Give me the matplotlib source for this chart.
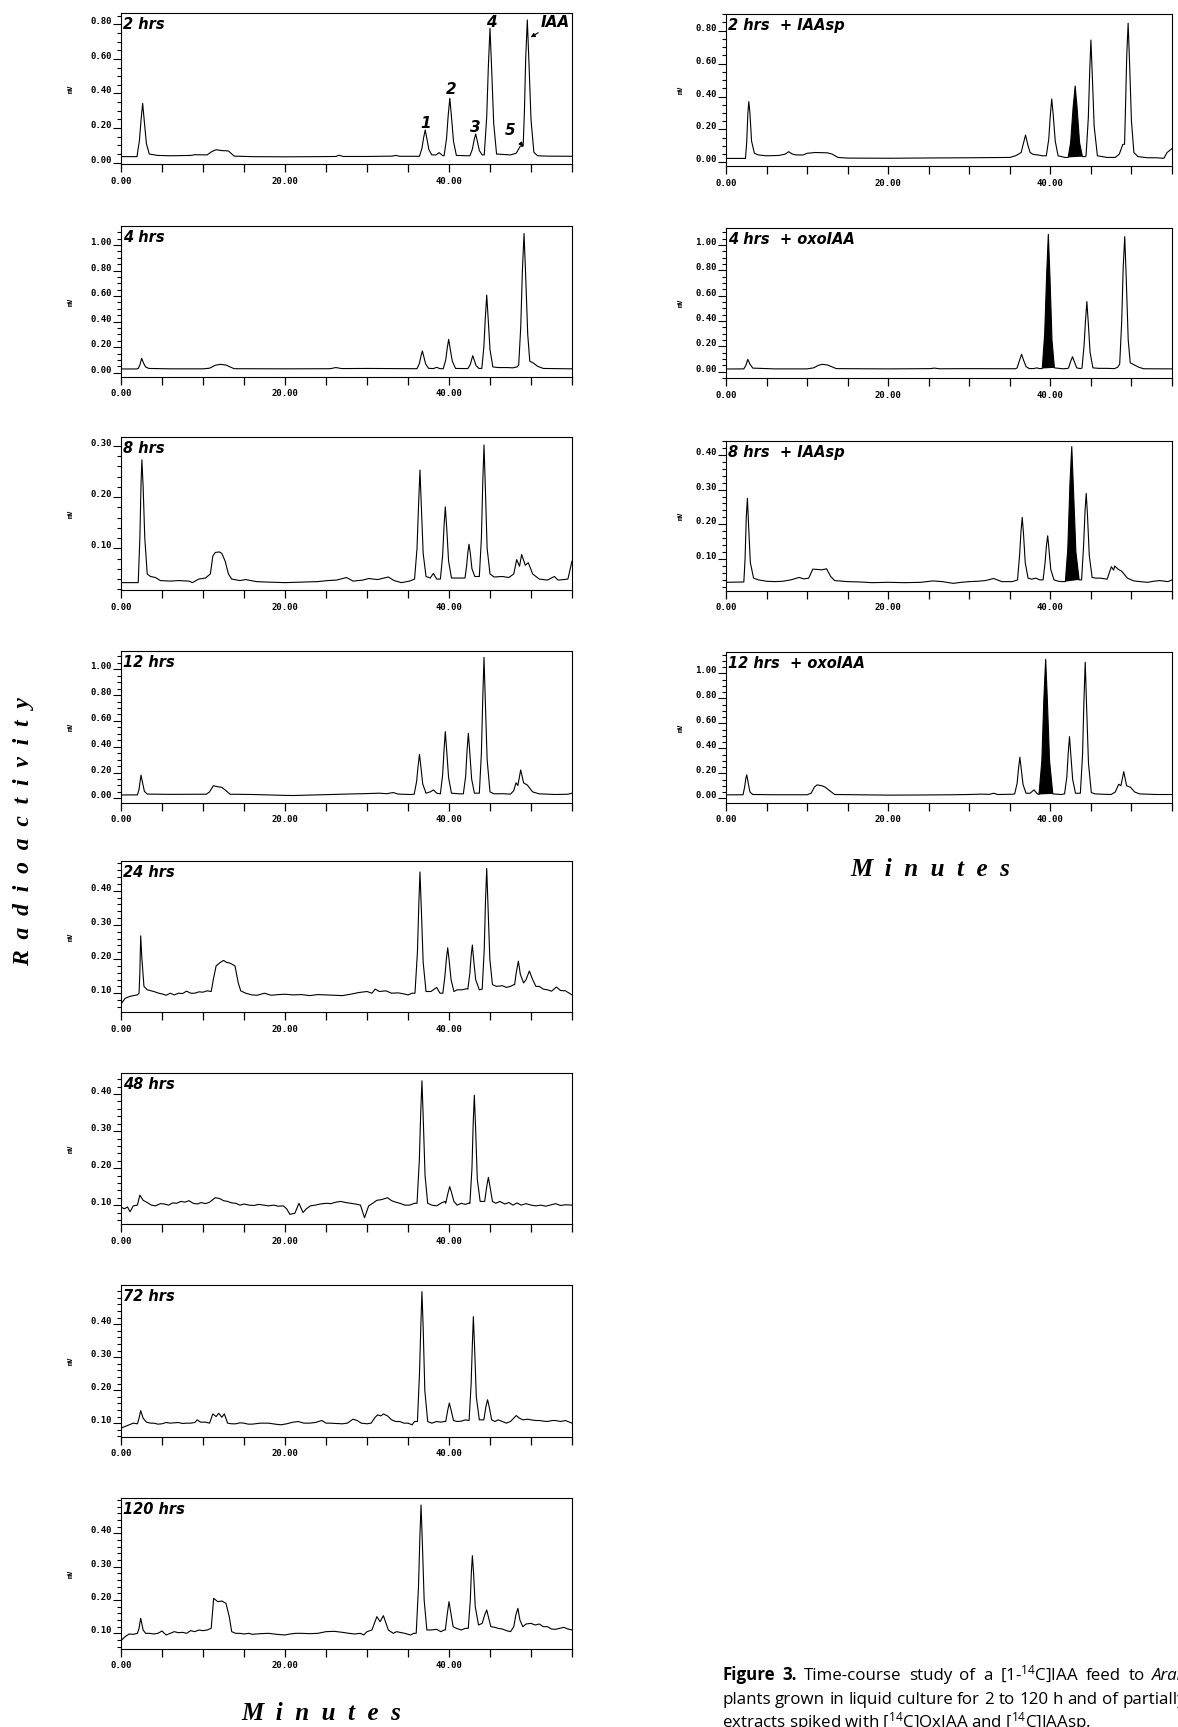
import matplotlib
matplotlib.use("Agg")
import matplotlib.pyplot as plt
from matplotlib.ticker import MultipleLocator, FixedLocator, FormatStrFormatter

plt.rcParams['mathtext.fontset'] = 'custom'
plt.rcParams['mathtext.rm'] = 'Open Sans'
plt.rcParams['mathtext.it'] = 'Open Sans:italic'
plt.rcParams['mathtext.bf'] = 'Open Sans:bold'

W, H = 1178, 1727

# chromatogram traces: (minutes, mV)
trace_2h = [(0, .035), (1.95, .035), (2.25, .13), (2.45, .25), (2.64, .343), (2.84, .24), (3.1, .11), (3.45, .05),
            (4.5, .042), (6, .04), (8.5, .042), (9, .046), (10.5, .045), (11.1, .065), (11.6, .075), (12.3, .07),
            (13.1, .068), (13.8, .038), (16, .035), (20, .034), (24, .035), (26.2, .036), (26.6, .043), (27.1, .036),
            (30, .036), (33.1, .038), (33.5, .042), (34, .037), (35.8, .037),
            (36.4, .037), (36.7, .083), (36.9, .143), (37.1, .189), (37.3, .14), (37.55, .075), (37.9, .045),
            (38.4, .045), (38.8, .058), (39.2, .042),
            (39.4, .04), (39.7, .14), (39.9, .272), (40.1, .372), (40.3, .266), (40.55, .123), (40.9, .042),
            (42.3, .04), (42.55, .04), (42.85, .078), (43.05, .128), (43.25, .166), (43.45, .126), (43.7, .07),
            (44.05, .045), (44.3, .045), (44.6, .265), (44.8, .557), (45.0, .777), (45.2, .543), (45.45, .228),
            (45.8, .05), (47.5, .045), (48.2, .055), (48.7, .096), (48.95, .095),
            (49.05, .10), (49.2, .3), (49.35, .6), (49.55, .825), (49.75, .58), (50.0, .25), (50.35, .06),
            (50.8, .04), (52, .038), (55, .037)]

trace_4h = [(0, .029), (1.9, .029), (2.1, .032), (2.3, .06), (2.52, .112), (2.75, .075), (3.0, .045), (3.4, .033),
            (6, .03), (10, .03), (10.8, .035), (11.5, .058), (12.1, .065), (12.8, .06), (13.3, .045), (13.8, .031),
            (20, .03), (25.5, .031), (26.2, .04), (26.9, .032), (30, .033), (35.8, .031),
            (36.1, .031), (36.4, .075), (36.58, .13), (36.75, .17), (36.92, .128), (37.15, .068), (37.5, .034),
            (38.1, .032), (38.5, .042), (38.9, .031),
            (39.3, .031), (39.6, .1), (39.78, .19), (39.96, .261), (40.15, .185), (40.4, .09), (40.8, .033),
            (42.0, .032), (42.3, .032), (42.6, .065), (42.75, .1), (42.9, .133), (43.07, .1), (43.3, .056),
            (43.65, .033), (44.0, .033), (44.25, .2), (44.43, .43), (44.6, .608), (44.78, .42), (45.0, .18),
            (45.35, .045), (46, .04), (47, .04), (47.8, .038), (48.3, .045),
            (48.5, .06), (48.75, .36), (48.95, .8), (49.15, 1.09), (49.35, .76), (49.6, .3), (49.85, .09),
            (50.3, .075), (50.8, .05), (51.5, .033), (55, .03)]

trace_8h = [(0, .033), (2.1, .033), (2.3, .12), (2.45, .23), (2.55, .273), (2.7, .22), (2.9, .12), (3.2, .05),
            (3.6, .045), (4.2, .043), (4.8, .037), (6, .036), (7, .037), (8.3, .036), (8.7, .033), (9.5, .04),
            (10.3, .042), (10.9, .05), (11.2, .085), (11.5, .092), (12.0, .093), (12.3, .09), (12.7, .075),
            (13.1, .05), (13.5, .04), (14.5, .037), (15.2, .039), (16.5, .035), (18, .034), (20, .033), (22, .034),
            (24, .035), (25.2, .037), (26.3, .038), (27.5, .043), (28.3, .036), (29.5, .038), (30.2, .041),
            (31.3, .039), (32.6, .044), (33.3, .037), (34.2, .033), (35.2, .036),
            (35.8, .04), (36.1, .1), (36.3, .19), (36.46, .253), (36.62, .185), (36.85, .09), (37.2, .045),
            (37.7, .042), (38.1, .051), (38.5, .04),
            (38.95, .04), (39.22, .085), (39.4, .145), (39.55, .181), (39.72, .14), (39.95, .075), (40.3, .042),
            (41.5, .042), (41.95, .042), (42.15, .066), (42.3, .092), (42.44, .108), (42.6, .09), (42.8, .06),
            (43.15, .045), (43.7, .045), (43.95, .12), (44.12, .23), (44.27, .302), (44.43, .22), (44.65, .1),
            (45.0, .05), (45.5, .044), (46.5, .045), (47.3, .043), (47.9, .05), (48.25, .078), (48.6, .065),
            (48.86, .088), (49.3, .067), (49.67, .072), (50.2, .05), (51, .04), (52, .038), (52.85, .045),
            (53.3, .038), (54, .039), (54.5, .04), (55, .075)]

trace_12h = [(0, .026), (2.0, .027), (2.2, .07), (2.35, .14), (2.44, .18), (2.6, .13), (2.85, .055), (3.2, .033),
             (6, .031), (10.4, .032), (10.8, .05), (11.26, .098), (11.8, .09), (12.3, .085), (12.8, .06),
             (13.3, .032), (16, .03), (20, .023), (21, .022), (24, .027), (28, .034), (30, .037), (31.5, .04),
             (32.4, .036), (33.2, .045), (33.8, .033), (35.3, .03),
             (35.75, .032), (36.05, .13), (36.23, .25), (36.4, .341), (36.57, .245), (36.8, .11), (37.2, .04),
             (37.7, .05), (38.1, .065), (38.5, .04),
             (38.95, .035), (39.22, .18), (39.4, .38), (39.55, .517), (39.72, .37), (39.95, .16), (40.3, .04),
             (41.3, .035), (41.75, .035), (42.03, .17), (42.2, .37), (42.36, .504), (42.53, .36), (42.76, .15),
             (43.1, .04), (43.7, .04), (43.95, .35), (44.12, .78), (44.27, 1.093), (44.43, .75), (44.65, .3),
             (45.0, .05), (45.5, .035), (46.5, .036), (47.5, .033), (47.9, .06), (48.17, .121), (48.4, .1),
             (48.74, .22), (49.1, .12), (49.55, .103), (50.2, .05), (51, .035), (53, .03), (54.5, .032), (55, .04)]

trace_24h = [(0, .068), (0.5, .085), (1, .09), (1.5, .093), (2.0, .095), (2.2, .1), (2.3, .16), (2.4, .268),
             (2.55, .2), (2.8, .12), (3.2, .11), (4, .105), (4.6, .1), (5, .098), (5.5, .094), (6, .1), (6.5, .095),
             (7, .1), (7.5, .099), (8, .106), (8.5, .1), (9, .1), (9.5, .104), (10, .103), (10.5, .107), (11, .105),
             (11.26, .14), (11.6, .18), (12.1, .19), (12.5, .196), (12.9, .19), (13.3, .188), (13.9, .18),
             (14.3, .13), (14.6, .107), (15.2, .1), (16, .095), (16.6, .094), (17.5, .1), (18.3, .094),
             (19.2, .096), (20, .097), (21, .095), (22, .096), (23, .093), (24, .096), (25, .095), (26, .094),
             (27, .093), (28, .097), (29, .102), (30, .105), (30.6, .1), (31, .112), (31.5, .105), (32.3, .107),
             (33, .1), (33.8, .101), (34.5, .098), (35, .095), (35.5, .1),
             (35.85, .1), (36.15, .22), (36.32, .36), (36.46, .455), (36.62, .35), (36.85, .19), (37.2, .105),
             (37.8, .105), (38.5, .117), (38.9, .1),
             (39.25, .1), (39.5, .15), (39.68, .2), (39.84, .233), (40.0, .2), (40.25, .14), (40.6, .105),
             (41, .11), (41.6, .11), (42.1, .113), (42.3, .112), (42.55, .16), (42.7, .21), (42.85, .241),
             (43.0, .2), (43.25, .14), (43.7, .11), (44.05, .112), (44.3, .23), (44.45, .37), (44.6, .465),
             (44.75, .36), (44.98, .2), (45.3, .125), (45.8, .12), (46.5, .122), (47, .117), (47.5, .12),
             (47.9, .125), (48.0, .125), (48.2, .16), (48.46, .194), (48.7, .155), (49.1, .13), (49.4, .14),
             (49.8, .165), (50.2, .14), (50.6, .12), (51, .12), (51.5, .112), (52, .11), (52.5, .106),
             (53.1, .118), (53.6, .108), (54.2, .107), (55, .095)]

trace_48h = [(0, .095), (0.4, .09), (0.8, .095), (1.1, .082), (1.5, .098), (2.0, .1), (2.3, .127), (2.7, .113),
             (3.2, .107), (3.7, .1), (4.2, .098), (4.8, .104), (5.3, .103), (5.8, .1), (6.3, .106), (6.8, .105),
             (7.3, .11), (7.8, .108), (8.3, .112), (8.8, .105), (9.3, .103), (9.8, .107), (10.3, .104),
             (10.8, .108), (11.5, .12), (12, .118), (12.5, .112), (13, .11), (13.5, .106), (14, .105), (14.5, .1),
             (15, .103), (15.6, .1), (16.2, .099), (16.8, .102), (17.4, .1), (18, .098), (18.6, .1), (19.2, .097),
             (19.8, .098), (20.2, .09), (20.6, .075), (21.2, .078), (21.7, .105), (22.2, .08), (22.6, .09),
             (23.1, .098), (23.7, .1), (24.3, .103), (25, .105), (25.6, .104), (26.2, .108), (26.8, .11),
             (27.4, .107), (28, .105), (28.6, .103), (29.2, .1), (29.7, .066), (30.2, .098), (30.7, .105),
             (31.2, .113), (31.8, .115), (32.5, .12), (33, .112), (33.5, .108), (34, .105), (34.6, .1),
             (35.2, .1), (35.8, .105),
             (36.1, .105), (36.38, .22), (36.55, .35), (36.7, .436), (36.85, .34), (37.08, .18), (37.4, .105),
             (37.9, .1), (38.5, .098), (39.0, .105), (39.5, .11),
             (39.6, .105), (39.85, .13), (40.08, .15), (40.3, .135), (40.6, .11), (41, .1), (41.5, .105),
             (42, .102), (42.5, .106), (42.55, .105), (42.8, .2), (42.95, .32), (43.09, .397), (43.24, .31),
             (43.45, .17), (43.8, .11), (44.35, .11), (44.6, .15), (44.8, .175), (45.0, .15), (45.3, .11),
             (45.7, .105), (46.2, .11), (46.8, .103), (47.3, .107), (47.8, .1), (48.3, .106), (48.8, .1),
             (49.4, .104), (50, .1), (50.6, .098), (51.2, .1), (51.8, .097), (52.5, .101), (53, .104),
             (53.6, .099), (54.2, .101), (55, .1)]

trace_72h = [(0, .085), (0.5, .09), (1, .095), (1.5, .1), (2.0, .098), (2.2, .115), (2.4, .138), (2.7, .115),
             (3.1, .103), (3.6, .1), (4, .1), (4.5, .097), (5, .098), (5.5, .102), (6, .1), (6.5, .101), (7, .102),
             (7.5, .099), (8, .1), (8.5, .1), (9.0, .102), (9.3, .11), (9.7, .103), (10.3, .103), (10.8, .1),
             (11.2, .128), (11.6, .12), (11.9, .13), (12.3, .118), (12.6, .128), (13, .1), (13.5, .098),
             (14, .098), (14.5, .101), (15, .1), (15.5, .097), (16, .097), (17, .1), (18, .1), (18.8, .097),
             (19.5, .095), (20.2, .098), (21, .103), (21.6, .105), (22.3, .1), (23, .1), (23.7, .102),
             (24.5, .108), (25, .1), (25.5, .1), (26.2, .099), (27, .098), (27.6, .1), (28.3, .112),
             (28.8, .108), (29.3, .1), (30, .098), (30.5, .1), (31, .118), (31.3, .125), (31.7, .122),
             (32, .128), (32.5, .122), (33, .11), (33.5, .105), (34, .105), (34.5, .1), (35, .1), (35.5, .095),
             (35.8, .105),
             (36.15, .105), (36.4, .25), (36.57, .4), (36.7, .499), (36.85, .39), (37.05, .2), (37.4, .105),
             (37.9, .1), (38.5, .105), (39.0, .103), (39.4, .105),
             (39.6, .105), (39.85, .14), (40.04, .161), (40.25, .14), (40.55, .108), (41.0, .105), (41.5, .106),
             (42.0, .11), (42.4, .108), (42.45, .108), (42.7, .22), (42.85, .34), (42.97, .423), (43.12, .33),
             (43.33, .18), (43.7, .11), (44.25, .11), (44.5, .15), (44.7, .171), (44.9, .15), (45.2, .11),
             (45.6, .105), (46, .11), (46.5, .105), (47, .1), (47.5, .105), (48.2, .123), (48.6, .115),
             (49, .11), (49.6, .112), (50, .11), (50.6, .108), (51, .108), (51.6, .106), (52, .105),
             (52.6, .108), (53, .108), (53.6, .105), (54.2, .108), (54.6, .104), (55, .1)]

trace_120h = [(0, .078), (0.5, .09), (1, .098), (1.5, .097), (2.0, .1), (2.2, .115), (2.4, .145), (2.7, .11),
              (3, .1), (3.5, .1), (4, .098), (4.5, .1), (5, .107), (5.5, .095), (6, .1), (6.5, .105), (7, .102),
              (7.5, .103), (8, .1), (8.5, .108), (9, .105), (9.5, .11), (10, .108), (10.5, .11), (11, .115),
              (11.3, .205), (11.8, .195), (12.3, .197), (12.8, .19), (13.2, .15), (13.5, .105), (14, .1),
              (14.5, .1), (15, .098), (15.6, .1), (16, .097), (17, .099), (18, .1), (19, .097), (20, .095),
              (20.6, .098), (21.3, .1), (22, .1), (23, .099), (24, .1), (25, .105), (26, .106), (27, .103),
              (27.8, .1), (28.5, .098), (29.2, .1), (29.6, .095), (30, .105), (30.6, .11), (31.2, .15),
              (31.6, .135), (32.0, .153), (32.6, .11), (33.2, .1), (33.6, .105), (34, .103), (34.6, .1),
              (35.3, .095), (35.7, .1),
              (36.0, .1), (36.28, .24), (36.45, .39), (36.59, .485), (36.74, .38), (36.97, .2), (37.3, .11),
              (37.8, .11), (38.5, .112), (39.0, .105), (39.4, .11),
              (39.55, .11), (39.8, .16), (40.0, .195), (40.2, .165), (40.5, .12), (40.9, .115), (41.5, .11),
              (42.0, .115), (42.3, .115), (42.35, .115), (42.6, .2), (42.72, .28), (42.85, .333), (43.0, .28),
              (43.2, .18), (43.6, .125), (44.05, .13), (44.35, .155), (44.6, .17), (44.8, .15), (45.1, .12),
              (45.6, .118), (46, .115), (46.5, .113), (47, .108), (47.5, .105), (47.9, .12), (48.15, .155),
              (48.4, .175), (48.65, .14), (49, .12), (49.4, .128), (50, .13), (50.5, .125), (51, .128),
              (51.5, .12), (52, .12), (52.5, .113), (53, .112), (53.5, .115), (54, .118), (54.5, .113), (55, .11)]

trace_2h_iaasp = [(0, .024), (2.4, .024), (2.55, .12), (2.7, .3), (2.81, .369), (2.95, .3), (3.15, .13),
                  (3.5, .055), (4, .045), (5, .04), (6.5, .042), (7.3, .05), (7.73, .065), (8.2, .05),
                  (8.7, .045), (9.5, .045), (10, .055), (11, .06), (12.5, .058), (13.1, .05), (13.8, .03),
                  (15, .026), (20, .025), (26, .027), (30, .028), (35, .03), (35.7, .04), (36.0, .048),
                  (36.4, .06), (36.65, .11), (36.94, .166), (37.2, .11), (37.5, .06), (37.9, .048), (38.5, .045),
                  (39.0, .04), (39.5, .04), (39.8, .14), (40.0, .29), (40.17, .385), (40.35, .29), (40.6, .13),
                  (40.95, .04), (41.8, .03),
                  (42.2, .03), (42.5, .12), (42.8, .33), (43.06, .464), (43.3, .33), (43.6, .12), (43.95, .035),
                  (44.3, .035), (44.4, .04), (44.68, .27), (44.85, .55), (45.0, .743), (45.17, .53), (45.4, .22),
                  (45.8, .04), (47, .03), (48, .03), (48.5, .05), (48.93, .109), (49.15, .11),
                  (49.25, .3), (49.42, .65), (49.59, .845), (49.77, .6), (50.0, .25), (50.3, .06), (50.8, .035),
                  (52, .028), (53, .028), (54, .025), (54.4, .06), (55.4, .1)]

trace_4h_oxo = [(0, .021), (2.2, .022), (2.45, .05), (2.69, .097), (2.95, .06), (3.3, .028), (6, .022), (10, .022),
                (10.8, .03), (11.4, .05), (11.86, .058), (12.5, .053), (13.0, .04), (13.6, .024), (20, .022),
                (25.2, .024), (25.7, .028), (26.3, .023), (30, .024), (35.7, .023),
                (35.9, .03), (36.15, .08), (36.45, .137), (36.7, .09), (37.0, .04), (37.4, .024), (38.0, .025),
                (38.3, .03), (38.7, .024),
                (39.0, .025), (39.3, .3), (39.55, .78), (39.75, 1.084), (39.95, .75), (40.2, .25), (40.5, .03),
                (41.5, .023), (42.1, .025), (42.25, .03), (42.5, .08), (42.73, .118), (42.95, .08), (43.25, .03),
                (43.7, .024), (43.9, .028), (44.15, .2), (44.33, .4), (44.5, .553), (44.67, .39), (44.9, .15),
                (45.25, .03), (46, .026), (47, .026), (47.9, .024), (48.3, .035),
                (48.55, .06), (48.8, .4), (48.98, .82), (49.17, 1.066), (49.35, .75), (49.6, .25), (49.85, .07),
                (50.3, .055), (50.9, .035), (51.5, .023), (55, .022)]

trace_8h_iaasp = [(0, .033), (2.2, .034), (2.35, .1), (2.5, .22), (2.64, .275), (2.78, .2), (3.0, .09),
                  (3.4, .045), (4, .04), (5, .036), (6, .035), (7, .036), (8, .04), (9, .047), (9.6, .043),
                  (10.2, .045), (10.7, .071), (11.3, .07), (11.8, .069), (12.4, .072), (12.9, .05), (13.4, .038),
                  (15, .035), (16.5, .034), (18, .032), (20, .033), (22, .032), (24, .033), (25.5, .037),
                  (26.7, .035), (28, .03), (29, .033), (30, .035), (31, .036), (32, .038), (33, .044), (34, .035),
                  (35.3, .035),
                  (35.95, .04), (36.2, .11), (36.38, .18), (36.53, .22), (36.68, .175), (36.9, .09), (37.25, .045),
                  (37.7, .042), (38.2, .045), (38.7, .04),
                  (39.1, .04), (39.35, .09), (39.52, .14), (39.67, .167), (39.82, .13), (40.05, .07), (40.45, .04),
                  (41.0, .036), (41.5, .035),
                  (41.85, .035), (42.15, .13), (42.42, .32), (42.64, .424), (42.85, .3), (43.15, .12), (43.55, .04),
                  (43.85, .04), (44.1, .14), (44.28, .24), (44.42, .289), (44.57, .23), (44.8, .11), (45.15, .047),
                  (45.6, .045), (46.2, .045), (47.0, .042), (47.52, .078), (47.8, .068), (47.93, .08), (48.4, .07),
                  (48.8, .065), (49.5, .045), (50.3, .037), (51.5, .034), (52, .033), (52.7, .036), (53.5, .038),
                  (54.5, .035), (55, .04)]

trace_12h_oxo = [(0, .027), (2.1, .028), (2.3, .09), (2.45, .16), (2.56, .187), (2.72, .13), (2.95, .05),
                 (3.3, .03), (6, .028), (10, .028), (10.5, .04), (10.9, .09), (11.24, .107), (11.8, .1), (12.2, .09),
                 (12.6, .07), (13.0, .05), (13.4, .03), (16, .028), (20, .025), (24, .026), (28, .028), (30, .03),
                 (31.5, .033), (32.5, .031), (33, .04), (33.5, .03), (35.3, .032),
                 (35.6, .035), (35.9, .12), (36.08, .24), (36.24, .328), (36.4, .24), (36.63, .11), (37.0, .04),
                 (37.5, .04), (37.98, .067), (38.4, .035),
                 (38.6, .03), (38.95, .3), (39.2, .8), (39.42, 1.112), (39.62, .8), (39.9, .3), (40.3, .035),
                 (41.3, .03), (41.75, .035), (42.03, .17), (42.2, .36), (42.36, .493), (42.52, .35), (42.75, .15),
                 (43.1, .04), (43.7, .04), (43.97, .35), (44.14, .78), (44.3, 1.088), (44.46, .75), (44.7, .28),
                 (45.05, .045), (45.5, .035), (46.5, .032), (47.5, .03), (48.0, .05), (48.43, .112), (48.7, .1),
                 (49.05, .213), (49.4, .1), (49.88, .088), (50.4, .05), (51, .035), (53, .03), (55, .03)]

left_traces = [trace_2h, trace_4h, trace_8h, trace_12h, trace_24h, trace_48h, trace_72h, trace_120h]
left_labels = ['2 hrs', '4 hrs', '8 hrs', '12 hrs', '24 hrs', '48 hrs', '72 hrs', '120 hrs']
right_traces = [trace_2h_iaasp, trace_4h_oxo, trace_8h_iaasp, trace_12h_oxo]
right_labels = ['2 hrs  + IAAsp', '4 hrs  + oxoIAA', '8 hrs  + IAAsp', '12 hrs  + oxoIAA']
# retention window of the spiked (black) peak in each right panel
spike_window = [(42.2, 43.95), (39.0, 40.5), (41.85, 43.55), (38.6, 40.3)]

left_ylim = [(-0.0075, 0.865), (-0.034, 1.149), (0.0186, 0.3176), (-0.036, 1.142),
             (0.045, 0.487), (0.049, 0.457), (0.058, 0.519), (0.053, 0.506)]
left_yticks = [[0, .2, .4, .6, .8], [0, .2, .4, .6, .8, 1.0], [.1, .2, .3], [0, .2, .4, .6, .8, 1.0],
               [.1, .2, .3, .4], [.1, .2, .3, .4], [.1, .2, .3, .4], [.1, .2, .3, .4]]
left_minor = [.05, .05, .02, .05, .02, .02, .02, .02]
right_ylim = [(-0.022, 0.901), (-0.05, 1.134), (0.008, 0.44), (-0.038, 1.17)]
right_yticks = [[0, .2, .4, .6, .8], [0, .2, .4, .6, .8, 1.0], [.1, .2, .3, .4], [0, .2, .4, .6, .8, 1.0]]
right_minor = [.05, .05, .02, .05]

# caption words: (word, weight, style)
caption_1 = [('Figure', 'bold', 'normal'), ('3.', 'bold', 'normal'), ('Time-course', 'normal', 'normal'),
             ('study', 'normal', 'normal'), ('of', 'normal', 'normal'), ('a', 'normal', 'normal'),
             ('[1-$^{14}$C]IAA', 'normal', 'normal'), ('feed', 'normal', 'normal'), ('to', 'normal', 'normal'),
             ('Arabidopsis', 'normal', 'italic')]
caption_2 = [(w, 'normal', 'normal') for w in
             'plants grown in liquid culture for 2 to 120 h and of partially purified'.split()]
caption_3 = 'extracts spiked with [$^{14}$C]OxIAA and [$^{14}$C]IAAsp.'

# panel frames in pixels (top, bottom)
left_tb = [(13, 164), (226, 377), (437, 590), (651, 803), (861, 1012), (1073, 1224), (1285, 1437), (1498, 1649)]
right_tb = [(14, 166), (228, 378), (441, 591), (652, 803)]

fig = plt.figure(figsize=(W / 100, H / 100), dpi=100)

tick_font = dict(family='DejaVu Sans Mono', weight='bold', size=6.5)
lab_font = dict(family='DejaVu Sans', weight='bold', style='italic', size=10.5)


def make_panel(x0, x1, tb, trace, label, ylim, yt, ymin, mv_x):
    top, bot = tb
    ax = fig.add_axes([x0 / W, 1 - bot / H, (x1 - x0) / W, (bot - top) / H])
    t = [p[0] for p in trace]
    v = [p[1] for p in trace]
    ax.plot(t, v, color='black', lw=0.8)
    ax.set_xlim(0, 55)
    ax.set_ylim(*ylim)
    ax.xaxis.set_major_locator(FixedLocator([0, 20, 40]))
    ax.xaxis.set_minor_locator(MultipleLocator(5))
    ax.xaxis.set_major_formatter(FormatStrFormatter('%.2f'))
    ax.yaxis.set_major_locator(FixedLocator(yt))
    ax.yaxis.set_minor_locator(MultipleLocator(ymin))
    ax.yaxis.set_major_formatter(FormatStrFormatter('%.2f'))
    ax.tick_params(axis='x', which='both', direction='out', length=6, width=0.9, pad=3)
    ax.tick_params(axis='y', which='major', direction='out', length=6, width=0.8, pad=0.5)
    ax.tick_params(axis='y', which='minor', direction='out', length=3, width=0.8)
    for lab in ax.get_xticklabels() + ax.get_yticklabels():
        lab.set_fontproperties(matplotlib.font_manager.FontProperties(**tick_font))
    for lab in ax.get_yticklabels():
        lab.set_verticalalignment('baseline')
    for s in ax.spines.values():
        s.set_linewidth(0.8)
    ax.set_ylabel('mV', fontsize=5, family='DejaVu Sans Mono', weight='bold')
    ax.yaxis.set_label_coords(mv_x, 0.5)
    ax.text(0.004, 0.975, label, transform=ax.transAxes, ha='left', va='top', **lab_font)
    return ax, t, v


left_axes = []
for i in range(8):
    ax, _, _ = make_panel(121, 572, left_tb[i], left_traces[i], left_labels[i], left_ylim[i],
                          left_yticks[i], left_minor[i], -0.105)
    left_axes.append(ax)

for i in range(4):
    ax, t, v = make_panel(726, 1172, right_tb[i], right_traces[i], right_labels[i], right_ylim[i],
                          right_yticks[i], right_minor[i], -0.095)
    a, b = spike_window[i]
    pts = [(x, y) for x, y in zip(t, v) if a <= x <= b]
    ax.fill([p[0] for p in pts], [p[1] for p in pts], color='black', lw=0)

# peak numbering in the 2 hrs chromatogram
ax0 = left_axes[0]
pk_font = dict(family='DejaVu Sans', weight='bold', style='italic', size=11)
ax0.text(37.1, 0.227, '1', ha='center', va='center', **pk_font)
ax0.text(40.24, 0.424, '2', ha='center', va='center', **pk_font)
ax0.text(43.17, 0.204, '3', ha='center', va='center', **pk_font)
ax0.text(45.12, 0.81, '4', ha='center', va='center', **pk_font)
ax0.annotate('5', xy=(49.05, 0.093), xytext=(47.5, 0.185), ha='center', va='center', **pk_font,
             arrowprops=dict(arrowstyle='-|>', lw=0.8, color='black', mutation_scale=6, shrinkA=5, shrinkB=0))
ax0.annotate('IAA', xy=(49.96, 0.725), xytext=(53.0, 0.81), ha='center', va='center', **pk_font,
             arrowprops=dict(arrowstyle='-|>', lw=0.8, color='black', mutation_scale=6, shrinkA=9, shrinkB=0))

# shared axis titles
title_font = dict(family='Liberation Serif', weight='bold', style='italic')
fig.text(24 / W, 1 - 832 / H, 'R  a  d  i  o  a  c  t  i  v  i  t  y', rotation=90, ha='center', va='center',
         fontsize=17, **title_font)
fig.text(930 / W, 1 - 870 / H, 'M  i  n  u  t  e  s', ha='center', va='center', fontsize=18, **title_font)
fig.text(321 / W, 1 - 1713 / H, 'M  i  n  u  t  e  s', ha='center', va='center', fontsize=18, **title_font)

# caption, justified like the page; it runs off the right edge as in the source
r = fig.canvas.get_renderer()
cap_family = 'Open Sans'
cap_size = 12.2


def caption_line(words, y, x_last=None, space=4.4):
    objs = []
    for w, wt, st in words:
        tx = fig.text(0, 1 - y / H, w, family=cap_family, fontsize=cap_size, fontweight=wt,
                      fontstyle=st, va='baseline')
        objs.append(tx)
    widths = [o.get_window_extent(renderer=r).width for o in objs]
    gap = space
    if x_last is not None:
        gap = max(space, (x_last - 722 - sum(widths[:-1])) / (len(objs) - 1))
    x = 722
    for o, wd in zip(objs, widths):
        o.set_x(x / W)
        x += wd + gap


caption_line(caption_1, 1680, 1152)
caption_line(caption_2, 1704)
fig.text(722 / W, 1 - 1727 / H, caption_3, family=cap_family, fontsize=cap_size, va='baseline')

fig.savefig('out.png', dpi=100)
